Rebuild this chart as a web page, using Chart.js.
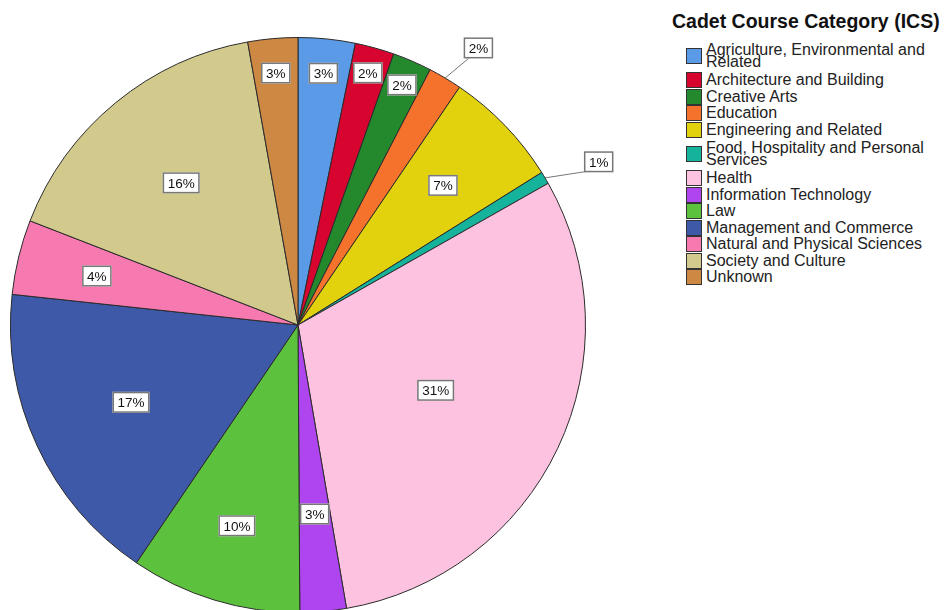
<!DOCTYPE html>
<html>
<head>
<meta charset="utf-8">
<script src="https://cdn.jsdelivr.net/npm/chart.js@4.4.1/dist/chart.umd.min.js"></script>
<style>
    html, body { margin: 0; padding: 0; background: #fff; overflow: hidden; width: 945px; height: 610px; }
    #wrap { position: absolute; left: 0; top: 0; width: 660px; height: 650px; }
    #legend { position: absolute; left: 668px; top: 10px; font-family: "Liberation Sans", Arial, sans-serif; color: #222; }
    #legend .title { font-weight: bold; font-size: 19.5px; margin: 0 0 7px 4px; white-space: nowrap; color: #111; }
    #legend .item { display: flex; align-items: center; margin-left: 18px; }
    #legend .box { width: 14px; height: 14px; border: 1px solid #333; margin-right: 4px; flex: none; }
    #legend .txt { font-size: 16px; line-height: 12.5px; width: 236px; padding: 2px 0 2px 0; }
    #legend .item.wrapped .txt { padding: 3.5px 0 3.5px 0; }
</style>
</head>
<body>
<div id="wrap"><canvas id="pie" width="660" height="650"></canvas></div>
<div id="legend"></div>
<script>
// Data (percent of cadets)
const categories = [
    'Agriculture, Environmental and Related',
    'Architecture and Building',
    'Creative Arts',
    'Education',
    'Engineering and Related',
    'Food, Hospitality and Personal Services',
    'Health',
    'Information Technology',
    'Law',
    'Management and Commerce',
    'Natural and Physical Sciences',
    'Society and Culture',
    'Unknown'
];
const shares = [3.2, 2.2, 2.2, 1.9, 6.6, 0.7, 30.5, 2.6, 9.6, 17.2, 4.2, 16.3, 2.8];
const colors = [
    '#5a9ae6', '#d6042f', '#23892c', '#f4722c', '#e2d20e', '#15b39b', '#fcc2e0',
    '#af45ef', '#5cc13c', '#3d59a8', '#f67aaf', '#d2c98d', '#cd8844'
];
const legendTitle = 'Cadet Course Category (ICS)';

// label placement: fraction of radius, and which slices get a callout outside
const labelRadius = [0.88, 0.91, 0.91, 1.15, 0.70, 1.19, 0.53, 0.66, 0.73, 0.64, 0.72, 0.64, 0.88];
const callout = [false, false, false, true, false, true, false, false, false, false, false, false, false];

/**
 * Draw the boxed percentage labels (SPSS style)
 */
const boxLabels = {
    id: 'boxLabels',
    afterDatasetsDraw(chart) {
        const ctx = chart.ctx;
        const meta = chart.getDatasetMeta(0);
        ctx.save();
        ctx.font = '13.5px "Liberation Sans", Arial, sans-serif';
        ctx.textAlign = 'center';
        ctx.textBaseline = 'middle';
        meta.data.forEach((arc, i) => {
            let mid = (arc.startAngle + arc.endAngle) / 2;
            if (callout[i]) mid += 0.04;
            const r = arc.outerRadius * labelRadius[i];
            const x = arc.x + Math.cos(mid) * r;
            const y = arc.y + Math.sin(mid) * r;
            if (callout[i]) {
                const m0 = (arc.startAngle + arc.endAngle) / 2;
                ctx.strokeStyle = '#777';
                ctx.lineWidth = 1;
                ctx.beginPath();
                ctx.moveTo(arc.x + Math.cos(m0) * arc.outerRadius, arc.y + Math.sin(m0) * arc.outerRadius);
                ctx.lineTo(x - 8, y + 9);
                ctx.stroke();
            }
            const text = Math.round(shares[i]) + '%';
            const w = ctx.measureText(text).width + 10;
            const h = 21;
            ctx.fillStyle = '#fff';
            ctx.fillRect(x - w / 2, y - h / 2, w, h);
            ctx.strokeStyle = '#777';
            ctx.lineWidth = 1.5;
            ctx.strokeRect(x - w / 2 + 0.75, y - h / 2 + 0.75, w - 1.5, h - 1.5);
            ctx.fillStyle = '#111';
            ctx.fillText(text, x, y + 1);
        });
        ctx.restore();
    }
};

new Chart(document.getElementById('pie').getContext('2d'), {
    type: 'pie',
    data: {
        labels: categories,
        datasets: [{
            data: shares,
            backgroundColor: colors,
            borderColor: '#2b2b2b',
            borderWidth: 1
        }]
    },
    options: {
        responsive: false,
        animation: false,
        layout: { padding: { left: 10, right: 74, top: 10, bottom: 10 } },
        plugins: {
            legend: { display: false },
            tooltip: { enabled: false }
        }
    },
    plugins: [boxLabels]
});

// HTML legend (wrapping text like the original)
const legend = document.getElementById('legend');
legend.innerHTML = `<div class="title">${legendTitle}</div>` + categories.map((c, i) => `
    <div class="item"><span class="box" style="background:${colors[i]}"></span><span class="txt">${c}</span></div>
`).join('');
legend.querySelectorAll('.item').forEach(el => {
    if (el.querySelector('.txt').offsetHeight > 20) el.classList.add('wrapped');
});
</script>
</body>
</html>
